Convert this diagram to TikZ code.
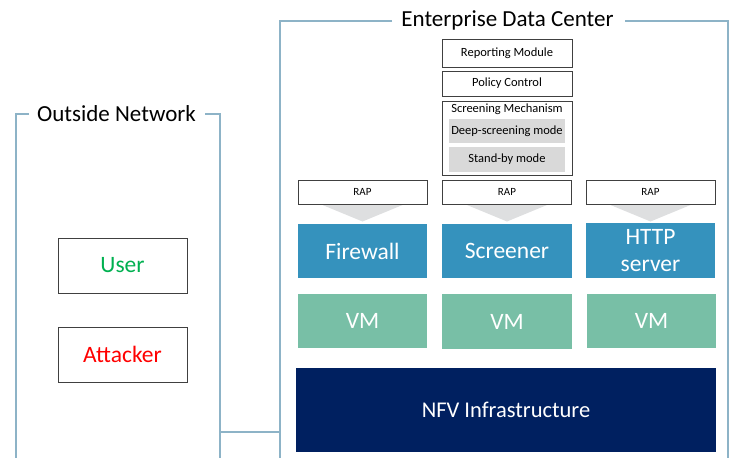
\documentclass[tikz,border=0pt]{standalone}
\usepackage{fontspec}
\setmainfont{Carlito}
\definecolor{frameC}{HTML}{8DB3C7}
\definecolor{blueC}{HTML}{3592BD}
\definecolor{greenC}{HTML}{78BFA6}
\definecolor{navyC}{HTML}{002060}
\definecolor{grayC}{HTML}{D9D9D9}
\definecolor{chevC}{HTML}{DEDFE0}
\definecolor{userC}{HTML}{00B050}
\definecolor{attC}{HTML}{FF0000}
\definecolor{edgeC}{HTML}{404040}
\tikzset{
  px/.style={x=1pt,y=-1pt},
  frameline/.style={draw=frameC,line width=1.2pt},
  title/.style={inner sep=0pt,font=\fontsize{23}{26}\selectfont},
  whitebox/.style={draw=edgeC,line width=0.8pt,fill=white,inner sep=0pt},
  actor/.style={draw=edgeC,line width=0.8pt,inner sep=0pt,font=\fontsize{23.5}{26}\selectfont},
  graybox/.style={fill=grayC,inner sep=0pt,font=\fontsize{12.5}{14}\selectfont},
  vnf/.style={fill=blueC,inner sep=0pt,text=white,align=center,font=\fontsize{23.5}{27}\selectfont},
  vmbox/.style={fill=greenC,inner sep=0pt,text=white,font=\fontsize{23.5}{26}\selectfont},
  chev/.style={fill=chevC,draw=none},
}
\begin{document}
\begin{tikzpicture}[px]
\useasboundingbox (0,0) rectangle (732,458);
% Outside network frame
\node[title] (outT) at (116.5,114) {Outside Network};
\coordinate (o1) at (29,114);
\coordinate (o2) at (16,114);
\coordinate (o3) at (16,458);
\coordinate (o4) at (205,114);
\coordinate (o5) at (220,114);
\coordinate (o6) at (220,458);
\draw[frameline] (o1) -- (o2) -- (o3);
\draw[frameline] (o4) -- (o5) -- (o6);
% Enterprise frame
\node[title] (entT) at (507.5,20) {Enterprise Data Center};
\coordinate (e1) at (392,21);
\coordinate (e2) at (280,21);
\coordinate (e3) at (280,458);
\coordinate (e4) at (625,21);
\coordinate (e5) at (728,21);
\coordinate (e6) at (728,458);
\draw[frameline] (e1) -- (e2) -- (e3);
\draw[frameline] (e4) -- (e5) -- (e6);
% link between networks
\coordinate (lo) at (220,432);
\coordinate (le) at (280,432);
\draw[frameline] (lo) -- (le);
% outside actors
\node[actor,minimum width=129pt,minimum height=55pt,text=userC] (user) at (122.5,265.5) {User};
\node[actor,minimum width=129pt,minimum height=55pt,text=attC] (att) at (122.5,354.5) {Attacker};
% screener modules
\node[whitebox,minimum width=130pt,minimum height=28pt,font=\fontsize{12.5}{14}\selectfont] (rep) at (507,53) {Reporting Module};
\node[whitebox,minimum width=130pt,minimum height=25pt,font=\fontsize{12.5}{14}\selectfont] (pol) at (507,83.5) {Policy Control};
\node[whitebox,minimum width=130pt,minimum height=74pt] (scr) at (507,138) {};
\node[inner sep=0pt,font=\fontsize{12.5}{14}\selectfont] (scrT) at (507,109) {Screening Mechanism};
\node[graybox,minimum width=116pt,minimum height=24pt] (deep) at (507,131) {Deep-screening mode};
\node[graybox,minimum width=116pt,minimum height=25pt] (stby) at (507,159.5) {Stand-by mode};
% RAPs
\foreach \n/\cx in {r1/362.5,r2/507,r3/650.5}{
  \node[whitebox,minimum width=129pt,minimum height=24pt,font=\fontsize{11}{13}\selectfont] (\n) at (\cx,192) {RAP};
  \fill[chev] (\cx-40,205) -- (\cx+40,205) -- (\cx,221.5) -- cycle;
}
% VNFs
\node[vnf,minimum width=129pt,minimum height=54pt] (fw) at (362.5,251) {Firewall};
\node[vnf,minimum width=130pt,minimum height=54pt] (sc) at (507,251) {Screener};
\node[vnf,minimum width=129pt,minimum height=55pt] (http) at (650.5,250.5) {HTTP\\server};
% VMs
\node[vmbox,minimum width=129pt,minimum height=54pt] (vm1) at (362.5,320.5) {VM};
\node[vmbox,minimum width=130pt,minimum height=55pt] (vm2) at (507,321.5) {VM};
\node[vmbox,minimum width=129pt,minimum height=54pt] (vm3) at (651.5,320.5) {VM};
% NFVI
\node[fill=navyC,text=white,inner sep=0pt,minimum width=420pt,minimum height=84pt,font=\fontsize{22.5}{26}\selectfont] (nfvi) at (506,410) {NFV Infrastructure};
\end{tikzpicture}
\end{document}
